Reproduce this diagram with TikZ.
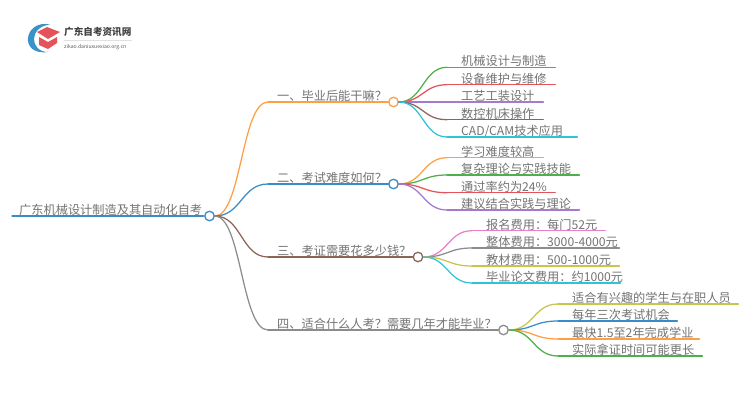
\documentclass[tikz,border=0pt]{standalone}
\usepackage{fontspec}
\setmainfont{Noto Sans CJK SC}
\usetikzlibrary{calc}
\definecolor{cOrange}{HTML}{FF9F45}
\definecolor{cBlue}{HTML}{3A8CC6}
\definecolor{cBrown}{HTML}{8D6558}
\definecolor{cGray}{HTML}{8C8C8C}
\definecolor{cGreen}{HTML}{4DB04A}
\definecolor{cRed}{HTML}{E5525A}
\definecolor{cPurple}{HTML}{A678D0}
\definecolor{cCyan}{HTML}{2EC4D8}
\definecolor{cPink}{HTML}{E87FC8}
\definecolor{cOlive}{HTML}{C6C64A}
\definecolor{cTxt}{HTML}{737373}
\tikzset{
  lab/.style={anchor=south west,inner xsep=0pt,inner ysep=0.4pt,text height=10.6pt,text depth=1pt,
    font=\fontsize{12.2}{14}\selectfont,text=cTxt,align=left},
  hub/.style={circle,draw=#1,fill=white,line width=1.3pt,minimum size=9.5pt,inner sep=0pt},
  conn/.style={line width=1.25pt,line cap=round}
}
% \leafnode{name}{colour}{curve start x}{y}{end x}{text x}{text}
\newcommand{\leafnode}[7]{%
  \pgfmathsetmacro{\lw}{#5-#3}\pgfmathsetmacro{\li}{#6-#3}%
  \node[lab,text width=\lw pt] (#1) at (#3,#4) {\hspace*{\li pt}#7};
  \draw[#2,conn] (#1.south west) -- (#1.south east);
}
\newcommand{\curveto}[3]{%
  \coordinate (mid) at ($(#2.east)!0.5!(#3.south west)$);
  \draw[#1,conn] (#2.east) .. controls (mid |- #2.east) and (mid |- #3.south west) .. (#3.south west);
}
\begin{document}
\begin{tikzpicture}[x=1pt,y=-1pt]
\useasboundingbox (0,0) rectangle (750,410);
% logo
\fill[cBlue!90!cCyan] (50,24.5) .. controls (24,19) and (18,56) .. (48,52) .. controls (30,52) and (28,27) .. (50,24.5) -- cycle;
\fill[cRed] (37,32) -- (47,27) -- (60,32) -- (48,39) -- cycle;
\fill[cRed] (39,37) -- (48,42) -- (57,37) -- (57,43) -- (48,49) -- (39,45) -- cycle;
\node[anchor=west,inner sep=0pt,font=\fontsize{9.6}{11}\selectfont\bfseries,text=black!75] (lt) at (64,31.5) {广东自考资讯网};
\node[anchor=west,inner sep=0pt,font=\fontsize{5.1}{6}\selectfont,text=black!65] (lu) at (64,47) {zikao.daniuxuexiao.org.cn};
\draw[black!12,line width=0.4pt] (lt.west |- 0,40) -- (lt.east |- 0,40);
% root
\node[lab,text width=191pt] (root) at (12,216) {\hspace*{7pt}广东机械设计制造及其自动化自考};
\draw[cBlue,conn] (root.south west) -- (root.south east);
\node[hub=cBlue] (rc) at (209.5,216) {};
% branches
\node[lab,text width=120pt] (b1) at (268,102) {\hspace*{9pt}一、毕业后能干嘛？};
\draw[cOrange,conn] (b1.south west) -- (b1.south east);
\node[hub=cOrange] (c1) at (393.5,102) {};
\node[lab,text width=120pt] (b2) at (268,184) {\hspace*{9pt}二、考试难度如何？};
\draw[cBlue,conn] (b2.south west) -- (b2.south east);
\node[hub=cBlue] (c2) at (393.5,184) {};
\node[lab,text width=145pt] (b3) at (268,257) {\hspace*{9pt}三、考证需要花多少钱？};
\draw[cBrown,conn] (b3.south west) -- (b3.south east);
\node[hub=cBrown] (c3) at (418,257) {};
\node[lab,text width=230pt] (b4) at (268,330) {\hspace*{9pt}四、适合什么人考？需要几年才能毕业？};
\draw[cGray,conn] (b4.south west) -- (b4.south east);
\node[hub=cGray] (c4) at (503.5,330) {};
\curveto{cOrange}{rc}{b1}
\curveto{cBlue}{rc}{b2}
\curveto{cBrown}{rc}{b3}
\curveto{cGray}{rc}{b4}
% leaves 1
\leafnode{a1}{cGreen}{447}{67.3}{555}{461}{机械设计与制造}
\leafnode{a2}{cRed}{447}{84.7}{555}{461}{设备维护与维修}
\leafnode{a3}{cPurple}{447}{102}{543}{461}{工艺工装设计}
\leafnode{a4}{cBrown}{447}{119.7}{543}{461}{数控机床操作}
\leafnode{a5}{cCyan}{447}{137}{577}{461}{CAD/CAM技术应用}
\curveto{cGreen}{c1}{a1}\curveto{cRed}{c1}{a2}\curveto{cPurple}{c1}{a3}\curveto{cBrown}{c1}{a4}\curveto{cCyan}{c1}{a5}
% leaves 2
\leafnode{d1}{cOrange}{447}{157.7}{543}{461}{学习难度较高}
\leafnode{d2}{cGreen}{447}{175}{579}{461}{复杂理论与实践技能}
\leafnode{d3}{cRed}{447}{192.7}{555}{461}{通过率约为24\%}
\leafnode{d4}{cPurple}{447}{210}{579}{461}{建议结合实践与理论}
\curveto{cOrange}{c2}{d1}\curveto{cGreen}{c2}{d2}\curveto{cRed}{c2}{d3}\curveto{cPurple}{c2}{d4}
% leaves 3
\leafnode{e1}{cPink}{472}{230.7}{605}{486}{报名费用：每门52元}
\leafnode{e2}{cGray}{472}{248}{619}{486}{整体费用：3000-4000元}
\leafnode{e3}{cOlive}{472}{266}{619}{486}{教材费用：500-1000元}
\leafnode{e4}{cCyan}{472}{283}{620}{486}{毕业论文费用：约1000元}
\curveto{cPink}{c3}{e1}\curveto{cGray}{c3}{e2}\curveto{cOlive}{c3}{e3}\curveto{cCyan}{c3}{e4}
% leaves 4
\leafnode{f1}{cOlive}{558}{304}{738}{572}{适合有兴趣的学生与在职人员}
\leafnode{f2}{cBlue}{558}{321}{677}{572}{每年三次考试机会}
\leafnode{f3}{cOrange}{558}{339}{699}{572}{最快1.5至2年完成学业}
\leafnode{f4}{cGreen}{558}{356}{702}{572}{实际拿证时间可能更长}
\curveto{cOlive}{c4}{f1}\curveto{cBlue}{c4}{f2}\curveto{cOrange}{c4}{f3}\curveto{cGreen}{c4}{f4}
\end{tikzpicture}
\end{document}
